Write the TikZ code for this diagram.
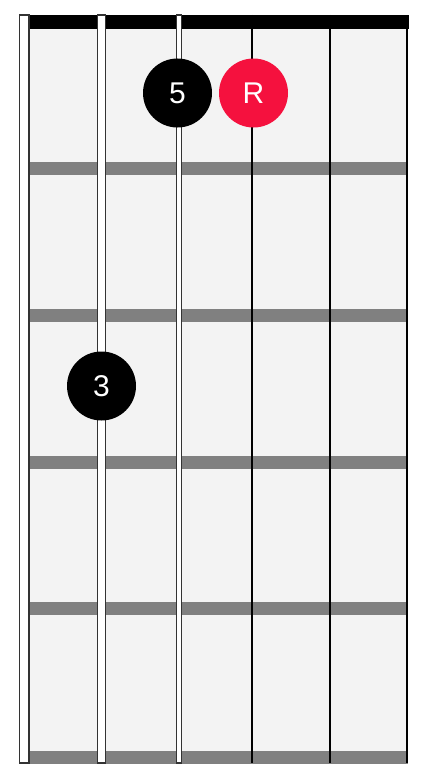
\documentclass[tikz,border=0pt]{standalone}
\usepackage{fontspec}
\setmainfont{Liberation Sans}
\definecolor{board}{HTML}{F3F3F3}
\definecolor{fretgrey}{HTML}{808080}
\definecolor{rootred}{HTML}{F5113E}
\definecolor{strline}{HTML}{333333}
\begin{document}
\begin{tikzpicture}[x=1pt,y=-1pt,
  dot/.style={circle,minimum size=69pt,inner sep=0pt,text=white,font=\fontsize{30}{30}\selectfont},
  fretbar/.style={fill=fretgrey},
  woundstr/.style={fill=white,draw=strline,line width=1.5pt},
  plainstr/.style={draw=black,line width=2.6pt}]
\useasboundingbox (0,0) rectangle (432,784);
\fill[white] (0,0) rectangle (432,784);
% board
\fill[board] (24,15) rectangle (408,763);
% nut
\fill[black] (20,15) rectangle (409,29);
% frets
\foreach \y in {168.5,315.5,462,608.5,757}
  \fill[fretgrey] (20,\y-6.5) rectangle (408,\y+6.5);
% wound strings
\draw[woundstr] (19.7,15) rectangle (28.8,763);
\draw[woundstr] (97.5,15) rectangle (105.5,763);
\draw[woundstr] (176.3,15) rectangle (181.7,763);
% plain strings
\draw[plainstr] (252,15) -- (252,763);
\draw[plainstr] (330,15) -- (330,763);
\draw[plainstr] (407,15) -- (407,763);
% dots
\node[dot,fill=black] (five) at (177.5,93) {5};
\node[dot,fill=rootred] (root) at (253.5,93) {R};
\node[dot,fill=black] (three) at (101.5,386) {3};
\end{tikzpicture}
\end{document}
